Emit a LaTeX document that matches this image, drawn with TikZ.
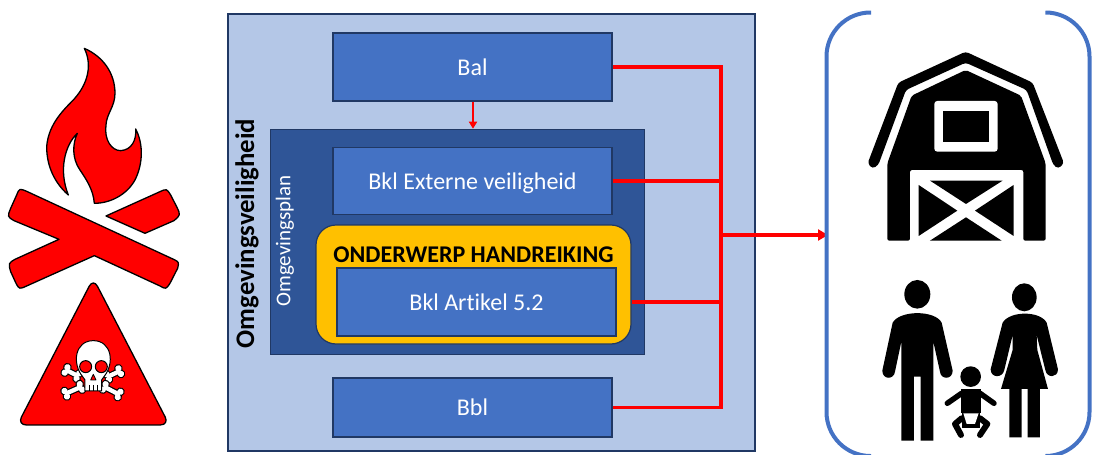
\documentclass[tikz,border=0pt]{standalone}
\usepackage{fontspec}
\setmainfont{Carlito}[Ligatures=NoCommon]
\usetikzlibrary{arrows.meta}
\definecolor{lichtblauw}{HTML}{B4C7E7}
\definecolor{middenblauw}{HTML}{4472C4}
\definecolor{donkerblauw}{HTML}{2F5597}
\definecolor{randblauw}{HTML}{203864}
\definecolor{geel}{HTML}{FFC000}
\begin{document}
\begin{tikzpicture}[x=1pt,y=-1pt,
    bnode/.style = {shape = rectangle,
                    fill = middenblauw,
                    draw = randblauw,
                    line width = 1.3pt,
                    minimum width = 279pt,
                    text = white,
                    text depth = 0pt,
                    font=\fontsize{24}{28}\selectfont,
                    inner sep=0pt},
    rline/.style = {draw = red, line width = 3.7pt},
    icon/.style = {fill = red, draw = black, line width = 1.3pt, line join=round},
    pics/bone/.style = {code = {
        \fill[black] (-#1,-9) circle (13) (-#1,9) circle (13) (#1,-9) circle (13) (#1,9) circle (13);
        \fill[black] (-#1,-10) rectangle (#1,10);
        \fill[white] (-#1,-9) circle (9.5) (-#1,9) circle (9.5) (#1,-9) circle (9.5) (#1,9) circle (9.5);
        \fill[white] (-#1,-6.5) rectangle (#1,6.5);
    }}]
    \useasboundingbox (0,0) rectangle (1093,455);
    % kaders
    \node[draw=randblauw, fill=lichtblauw, line width=1.2pt, minimum width=527pt, minimum height=437pt, inner sep=0pt] (omgeving) at (491.5,232.5) {};
    \node[draw=randblauw, fill=donkerblauw, line width=.6pt, minimum width=374pt, minimum height=225pt, inner sep=0pt] (plan) at (457,241.5) {};
    \node[draw=randblauw, fill=geel, line width=1.2pt, rounded corners=20pt, minimum width=315pt, minimum height=119pt, inner sep=0pt] (handreiking) at (473.5,284.5) {};
    \node[bnode, minimum height=68pt] (bal) at (472.5,67) {Bal};
    \node[bnode, minimum height=67pt] (bklev) at (472.5,181) {Bkl Externe veiligheid};
    \node[bnode, minimum height=68pt] (bklart) at (476.5,302) {Bkl Artikel 5.2};
    \node[bnode, minimum height=59pt] (bbl) at (472.5,407.5) {Bbl};
    \node[font=\fontsize{26.8}{30}\selectfont\bfseries, rotate=90, inner sep=0pt] (omglabel) at (247,233.5) {Omgevingsveiligheid};
    \node[font=\fontsize{21}{24}\selectfont, text=white, rotate=90, inner sep=0pt] (planlabel) at (285,241) {Omgevingsplan};
    \node[font=\fontsize{24}{28}\selectfont\bfseries, inner sep=0pt] (hrlabel) at (473.5,255) {ONDERWERP HANDREIKING};
    % verbindingen
    \coordinate (trunk) at (721,235);
    \coordinate (doel) at (828,235);
    \draw[rline] (bal.east) -| (trunk);
    \draw[rline] (bbl.east) -| (trunk);
    \draw[rline] (bklev.east) -- (bklev.east -| trunk);
    \draw[rline] (bklart -| handreiking.east) -- (bklart -| trunk);
    \draw[rline, -{Triangle[length=10pt,width=11pt]}] (trunk) -- (doel);
    \draw[draw=red, line width=2pt, -{Triangle[length=7pt,width=8pt]}] (bal.south -| 473,0) -- (plan.north -| 473,0);
    % kader rechts
    \draw[middenblauw, line width=4pt, rounded corners=44pt] (871,12.5) -- (826.5,12.5) -- (826.5,456) -- (871,456);
    \draw[middenblauw, line width=4pt, rounded corners=44pt] (1047,12.5) -- (1089.5,12.5) -- (1089.5,456) -- (1047,456);
    % vuur en gevaar
    \begin{scope}[shift={(0,30)},x=.3333pt,y=-.3333pt]
        \draw[icon] (253,55) .. controls (310,80) and (345,130) .. (345,190)
            .. controls (345,230) and (320,250) .. (318,285)
            .. controls (312,330) and (335,362) .. (362,362)
            .. controls (395,360) and (410,330) .. (407,297)
            .. controls (430,340) and (430,400) .. (405,450)
            .. controls (380,495) and (330,520) .. (283,520)
            .. controls (280,480) and (260,450) .. (240,420)
            .. controls (215,385) and (218,340) .. (232,310)
            .. controls (195,345) and (175,420) .. (205,495)
            .. controls (165,460) and (140,410) .. (140,350)
            .. controls (145,290) and (180,250) .. (215,215)
            .. controls (260,170) and (280,110) .. (253,55) -- cycle;
        \draw[icon] (80,484) -- (525,690) .. controls (537,697) .. (533,715)
            -- (510,760) .. controls (498,778) .. (480,768) -- (283,677)
            -- (80,768) .. controls (58,778) .. (48,760)
            -- (32,725) .. controls (25,700) .. (45,688) -- (177,628)
            -- (42,572) .. controls (22,560) .. (32,535)
            -- (50,495) .. controls (58,475) .. (80,484) -- cycle;
        \draw[icon] (318,558) -- (480,485) .. controls (500,476) .. (512,495)
            -- (530,530) .. controls (542,555) .. (522,572) -- (435,610) -- cycle;
        \draw[icon, rounded corners=9pt] (280,745) -- (508,1185) -- (52,1185) -- cycle;
        % botten en schedel
        \path (216,1029) pic[rotate=-27] {bone=20};
        \path (341,1032) pic[rotate=25] {bone=20};
        \path (220,1081) pic[rotate=24] {bone=25};
        \path (335,1082) pic[rotate=-27] {bone=25};
        \draw[fill=white, draw=black, line width=1pt, line join=round] (248,1040) .. controls (215,1000) and (225,932) .. (280,932) .. controls (335,932) and (345,1000) .. (312,1040) -- (305,1050) -- (305,1083) -- (255,1083) -- (255,1050) -- cycle;
        \draw[icon, line width=1pt] (257,1010) circle (18) (304,1010) circle (18);
        \draw[icon, line width=.8pt] (280,1033) -- (288,1050) -- (272,1050) -- cycle;
        \draw[black, line width=.8pt] (268,1065) -- (268,1083) (280,1065) -- (280,1083) (292,1065) -- (292,1083);
    \end{scope}
    % gezin en boerderij
    \begin{scope}[shift={(820,0)},x=.3333pt,y=-.3333pt]
        \fill[black, rounded corners=3pt] (437,155) -- (638,248) -- (732,490) -- (715,506) -- (700,495) -- (620,270) -- (437,188) -- (258,270) -- (175,495) -- (158,506) -- (143,490) -- (235,248) -- cycle;
        \fill[black, rounded corners=2pt] (437,210) -- (603,287) -- (677,490) -- (677,722) -- (610,722) -- (610,510) -- (270,510) -- (270,722) -- (202,722) -- (202,490) -- (275,287) -- cycle;
        \fill[white, rounded corners=3pt] (343,303) rectangle (533,455);
        \fill[black] (370,333) rectangle (506,425);
        \fill[black] (330,542) -- (548,542) -- (438,612) -- cycle;
        \fill[black] (296,555) -- (412,632) -- (296,708) -- cycle;
        \fill[black] (581,555) -- (465,632) -- (581,708) -- cycle;
        \fill[black] (438,652) -- (545,722) -- (330,722) -- cycle;
        % man
        \fill[black] (292,883) ellipse [x radius=39, y radius=43];
        \fill[black] (218,968) .. controls (240,930) and (345,930) .. (365,968) -- (398,1112) .. controls (398,1140) and (362,1140) .. (360,1115) -- (340,1025) -- (340,1322) -- (302,1322) -- (302,1130) -- (282,1130) -- (282,1322) -- (244,1322) -- (244,1025) -- (225,1115) .. controls (222,1140) and (187,1140) .. (187,1112) -- cycle;
        % vrouw
        \fill[black] (613,892) ellipse [x radius=37, y radius=42];
        \fill[black] (548,968) .. controls (570,932) and (660,932) .. (680,968) -- (714,1108) .. controls (714,1135) and (680,1135) .. (676,1110) -- (650,1005) -- (652,1050) -- (684,1167) -- (660,1167) -- (660,1312) -- (623,1312) -- (623,1167) -- (605,1167) -- (605,1312) -- (568,1312) -- (568,1167) -- (543,1167) -- (578,1050) -- (578,1005) -- (553,1110) .. controls (548,1135) and (512,1135) .. (512,1108) -- cycle;
        % baby
        \fill[black] (452,1130) circle (31);
        \fill[black] (422,1168) rectangle (484,1240);
        \draw[black, line width=5.5pt, line cap=round, line join=round] (382,1210) -- (425,1180);
        \draw[black, line width=5.5pt, line cap=round, line join=round] (522,1210) -- (480,1180);
        \draw[black, line width=6pt, line cap=round, line join=round] (425,1255) -- (405,1272) -- (423,1305);
        \draw[black, line width=6pt, line cap=round, line join=round] (480,1255) -- (502,1272) -- (480,1305);
        \fill[black] (425,1240) rectangle (480,1285);
        \fill[white] (430,1240) -- (476,1240) -- (465,1272) -- (440,1272) -- cycle;
    \end{scope}
\end{tikzpicture}
\end{document}
